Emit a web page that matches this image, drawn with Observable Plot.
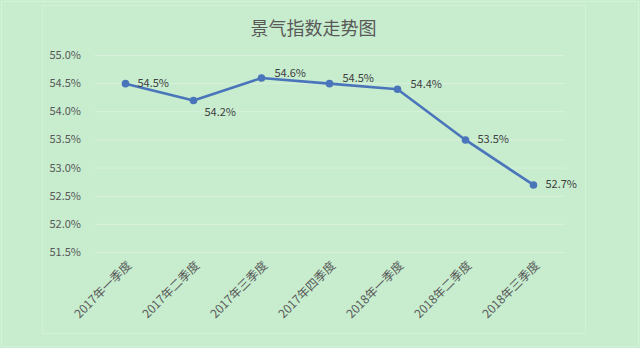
<!DOCTYPE html>
<html>
<head>
<meta charset="utf-8">
<script src="https://cdn.jsdelivr.net/npm/d3@7"></script>
<script src="https://cdn.jsdelivr.net/npm/@observablehq/plot@0.6"></script>
<style>
  html, body { margin: 0; padding: 0; }
  body { width: 640px; height: 348px; overflow: hidden; background: #c7ecce; }
  #wrap { position: relative; width: 640px; height: 348px; background: #c7ecce;
          font-family: "Noto Sans CJK SC", "Noto Sans", sans-serif; }
  #outer { position: absolute; left: 1px; top: 1px; width: 636px; height: 344px;
           border: 1px solid #d3f2da; pointer-events: none; }
  #frame { position: absolute; left: 42px; top: 5px; width: 542px; height: 327px;
           border: 1px solid #d3f0d9; pointer-events: none; }
  #title { height: 22px; padding-top: 18px; line-height: 18px; font-size: 18px;
           color: #595959; text-align: center; width: 627px; }
  #chart svg { display: block; }
</style>
</head>
<body>
<div id="wrap">
  <div id="outer"></div>
  <div id="frame"></div>
  <div id="title">景气指数走势图</div>
  <div id="chart"></div>
</div>
<script>
const categories = ["2017年一季度","2017年二季度","2017年三季度","2017年四季度","2018年一季度","2018年二季度","2018年三季度"];
const values = [54.5, 54.2, 54.6, 54.5, 54.4, 53.5, 52.7];
const yTicks = [51.5, 52.0, 52.5, 53.0, 53.5, 54.0, 54.5, 55.0];

const data = categories.map((c, i) => ({cat: c, v: values[i], i}));
const fmt = d => d.toFixed(1) + "%";
const below = new Set([1]);
const above = new Set([2, 3, 4]);

const font = "Noto Sans CJK SC, Noto Sans, sans-serif";

const chart = Plot.plot({
  width: 640,
  height: 308,
  marginLeft: 87.5,
  marginRight: 70.5,
  marginTop: 15,
  marginBottom: 96,
  style: {background: "transparent", fontFamily: font, fontSize: "11px", color: "#595959"},
  x: {type: "point", domain: categories, padding: 0.5, label: null},
  y: {domain: [51.5, 55], ticks: yTicks, label: null},
  marks: [
    Plot.gridY(yTicks, {stroke: "#d8f1dc", strokeOpacity: 1, strokeWidth: 1, insetLeft: 7, insetRight: 4}),
    Plot.axisY(yTicks, {tickSize: 0, tickPadding: 7, tickFormat: fmt, fill: "#595959", fontSize: 11}),
    Plot.axisX({tickSize: 0, tickPadding: 11, tickRotate: -45, fill: "#595959", fontSize: 12, dx: 4}),
    Plot.line(data, {x: "cat", y: "v", stroke: "#4a75bb", strokeWidth: 2.6}),
    Plot.dot(data, {x: "cat", y: "v", r: 3.8, fill: "#4a75bb", stroke: "none"}),
    Plot.text(data.filter(d => !below.has(d.i) && !above.has(d.i)), {x: "cat", y: "v", text: d => fmt(d.v), dx: 12, textAnchor: "start", fill: "#404040", fontSize: 11}),
    Plot.text(data.filter(d => below.has(d.i)), {x: "cat", y: "v", text: d => fmt(d.v), dx: 11, dy: 12, textAnchor: "start", fill: "#404040", fontSize: 11}),
    Plot.text(data.filter(d => above.has(d.i)), {x: "cat", y: "v", text: d => fmt(d.v), dx: 13, dy: -5, textAnchor: "start", fill: "#404040", fontSize: 11})
  ]
});
document.getElementById("chart").appendChild(chart);
</script>
</body>
</html>
